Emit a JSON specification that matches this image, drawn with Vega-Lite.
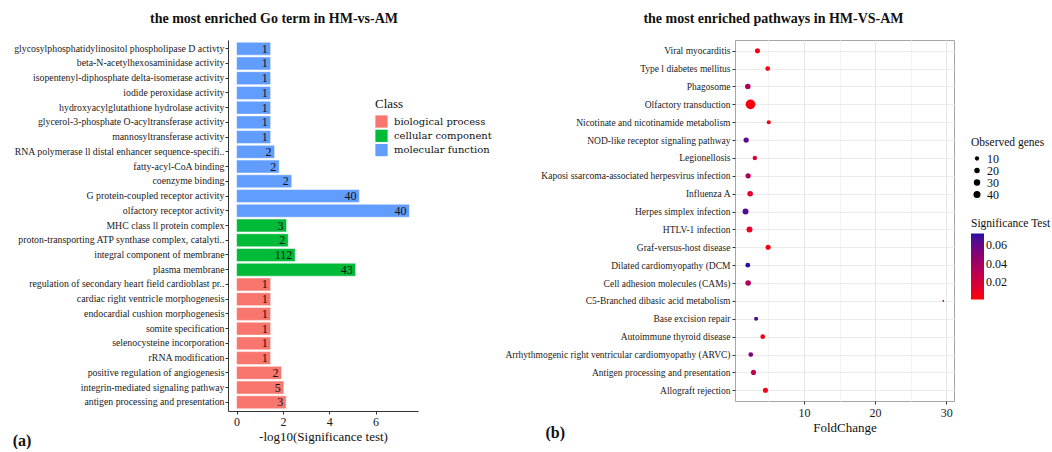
{
  "$schema": "https://vega.github.io/schema/vega-lite/v6.json",
  "padding": {"left": 12, "top": 11, "right": 2, "bottom": 0},
  "autosize": {"type": "pad"},
  "background": "white",
  "config": {
    "font": "Liberation Serif",
    "title": {"font": "Liberation Serif", "color": "#111"},
    "axis": {"labelFont": "Liberation Serif", "titleFont": "Liberation Serif", "labelColor": "#1a1a1a", "titleColor": "#111"},
    "legend": {"labelFont": "Liberation Serif", "titleFont": "Liberation Serif", "labelColor": "#111", "titleColor": "#111"},
    "view": {"stroke": null}
  },
  "spacing": 12,
  "resolve": {"scale": {"color": "independent", "size": "independent"}, "legend": {"color": "independent", "size": "independent"}},
  "hconcat": [
    {
      "title": {"text": "(a)", "orient": "bottom", "anchor": "start", "fontSize": 16, "fontWeight": "bold", "offset": -10, "dx": -1},
      "vconcat": [
        {
          "title": {"text": "the most enriched Go term in HM-vs-AM", "fontSize": 14, "fontWeight": "bold", "frame": "group", "dx": -49, "offset": 14},
          "width": 190,
          "height": 371,
          "data": {"values": [
            {"term": "glycosylphosphatidylinositol phospholipase D activty", "logp": 1.47, "genes": 1, "class": "molecular function"},
            {"term": "beta-N-acetylhexosaminidase activity", "logp": 1.47, "genes": 1, "class": "molecular function"},
            {"term": "isopentenyl-diphosphate delta-isomerase activity", "logp": 1.47, "genes": 1, "class": "molecular function"},
            {"term": "iodide peroxidase activity", "logp": 1.47, "genes": 1, "class": "molecular function"},
            {"term": "hydroxyacylglutathione hydrolase activity", "logp": 1.47, "genes": 1, "class": "molecular function"},
            {"term": "glycerol-3-phosphate O-acyltransferase activity", "logp": 1.47, "genes": 1, "class": "molecular function"},
            {"term": "mannosyltransferase activity", "logp": 1.47, "genes": 1, "class": "molecular function"},
            {"term": "RNA polymerase ll distal enhancer sequence-specifi..", "logp": 1.64, "genes": 2, "class": "molecular function"},
            {"term": "fatty-acyl-CoA binding", "logp": 1.84, "genes": 2, "class": "molecular function"},
            {"term": "coenzyme binding", "logp": 2.38, "genes": 2, "class": "molecular function"},
            {"term": "G protein-coupled receptor activity", "logp": 5.3, "genes": 40, "class": "molecular function"},
            {"term": "olfactory receptor activity", "logp": 7.46, "genes": 40, "class": "molecular function"},
            {"term": "MHC class ll protein complex", "logp": 2.16, "genes": 3, "class": "cellular component"},
            {"term": "proton-transporting ATP synthase complex, catalyti..", "logp": 2.23, "genes": 2, "class": "cellular component"},
            {"term": "integral component of membrane", "logp": 2.53, "genes": 112, "class": "cellular component"},
            {"term": "plasma membrane", "logp": 5.14, "genes": 43, "class": "cellular component"},
            {"term": "regulation of secondary heart field cardioblast pr..", "logp": 1.47, "genes": 1, "class": "biological process"},
            {"term": "cardiac right ventricle morphogenesis", "logp": 1.47, "genes": 1, "class": "biological process"},
            {"term": "endocardial cushion morphogenesis", "logp": 1.47, "genes": 1, "class": "biological process"},
            {"term": "somite specification", "logp": 1.47, "genes": 1, "class": "biological process"},
            {"term": "selenocysteine incorporation", "logp": 1.47, "genes": 1, "class": "biological process"},
            {"term": "rRNA modification", "logp": 1.47, "genes": 1, "class": "biological process"},
            {"term": "positive regulation of angiogenesis", "logp": 1.94, "genes": 2, "class": "biological process"},
            {"term": "integrin-mediated signaling pathway", "logp": 2.04, "genes": 5, "class": "biological process"},
            {"term": "antigen processing and presentation", "logp": 2.14, "genes": 3, "class": "biological process"}
          ]},
          "encoding": {
            "y": {"field": "term", "type": "nominal", "sort": null,
                  "scale": {"paddingInner": 0.12, "paddingOuter": 0.15},
                  "axis": {"title": null, "labelFontSize": 9.8, "labelLimit": 400, "tickColor": "#333", "tickSize": 3, "domainColor": "#333", "labelPadding": 1}},
            "x": {"field": "logp", "type": "quantitative",
                  "scale": {"domain": [-0.37, 7.83], "nice": false, "zero": false},
                  "axis": {"values": [0, 2, 4, 6], "title": "-log10(Significance test)", "titleFontSize": 13, "titleFontWeight": "normal", "titlePadding": 3, "labelFontSize": 12, "labelPadding": 2, "grid": false, "domainColor": "#333", "tickColor": "#333", "tickSize": 3}}
          },
          "layer": [
            {
              "mark": {"type": "bar", "stroke": "white", "strokeWidth": 0.5},
              "encoding": {
                "color": {"field": "class", "type": "nominal",
                          "scale": {"domain": ["biological process", "cellular component", "molecular function"], "range": ["#F8766D", "#00BA38", "#619CFF"]},
                          "legend": {"title": "Class", "orient": "none", "legendX": 147, "legendY": 58, "titleFontSize": 13, "titleFontWeight": "normal", "labelFont": "DejaVu Serif", "labelFontSize": 10, "symbolType": "square", "symbolSize": 150, "symbolStrokeWidth": 0, "symbolOpacity": 1, "rowPadding": 1.3, "padding": 0, "titlePadding": 4, "labelOffset": 6}}
              }
            },
            {
              "mark": {"type": "text", "align": "right", "baseline": "middle", "dx": -3, "fontSize": 12, "color": "#111"},
              "encoding": {"text": {"field": "genes", "type": "quantitative"}}
            }
          ]
        }
      ]
    },
    {
      "title": {"text": "(b)", "orient": "bottom", "anchor": "start", "fontSize": 16, "fontWeight": "bold", "offset": -10, "dx": 41},
      "vconcat": [
        {
          "title": {"text": "the most enriched pathways in HM-VS-AM", "fontSize": 14, "fontWeight": "bold", "frame": "group", "dx": -71, "offset": 14},
          "width": 219,
          "height": 361,
          "view": {"stroke": "#A6A6A6"},
          "data": {"values": [
            {"pathway": "Viral myocarditis", "fc": 3.46, "genes": 16, "p": 0.005},
            {"pathway": "Type l diabetes mellitus", "fc": 4.9, "genes": 13, "p": 0.003},
            {"pathway": "Phagosome", "fc": 2.1, "genes": 21, "p": 0.035},
            {"pathway": "Olfactory transduction", "fc": 2.48, "genes": 100, "p": 0.003},
            {"pathway": "Nicotinate and nicotinamide metabolism", "fc": 5.05, "genes": 9, "p": 0.004},
            {"pathway": "NOD-like receptor signaling pathway", "fc": 1.87, "genes": 18, "p": 0.062},
            {"pathway": "Legionellosis", "fc": 3.09, "genes": 11, "p": 0.018},
            {"pathway": "Kaposi ssarcoma-associated herpesvirus infection", "fc": 2.15, "genes": 18, "p": 0.033},
            {"pathway": "Influenza A", "fc": 2.43, "genes": 21, "p": 0.014},
            {"pathway": "Herpes simplex infection", "fc": 1.78, "genes": 25, "p": 0.066},
            {"pathway": "HTLV-1 infection", "fc": 2.34, "genes": 25, "p": 0.01},
            {"pathway": "Graf-versus-host disease", "fc": 4.96, "genes": 16, "p": 0.003},
            {"pathway": "Dilated cardiomyopathy (DCM", "fc": 2.1, "genes": 13, "p": 0.073},
            {"pathway": "Cell adhesion molecules (CAMs)", "fc": 2.15, "genes": 21, "p": 0.035},
            {"pathway": "C5-Branched dibasic acid metabolism", "fc": 29.6, "genes": 1, "p": 0.045},
            {"pathway": "Base excision repair", "fc": 3.27, "genes": 9, "p": 0.066},
            {"pathway": "Autoimmune thyroid disease", "fc": 4.2, "genes": 13, "p": 0.006},
            {"pathway": "Arrhythmogenic right ventricular cardiomyopathy (ARVC)", "fc": 2.52, "genes": 13, "p": 0.052},
            {"pathway": "Antigen processing and presentation", "fc": 2.9, "genes": 16, "p": 0.028},
            {"pathway": "Allograft rejection", "fc": 4.58, "genes": 16, "p": 0.004}
          ]},
          "mark": {"type": "circle", "opacity": 1},
          "encoding": {
            "y": {"field": "pathway", "type": "nominal", "sort": null,
                  "scale": {"type": "point", "padding": 0.6},
                  "axis": {"title": null, "labelFontSize": 9.5, "labelLimit": 400, "grid": true, "gridColor": "#EBEBEB", "domain": false, "tickColor": "#333", "tickSize": 3, "labelPadding": 2}},
            "x": {"field": "fc", "type": "quantitative",
                  "scale": {"domain": [0.3, 31.1], "nice": false, "zero": false},
                  "axis": {"values": [5, 10, 15, 20, 25, 30],
                           "labelExpr": "datum.value % 10 === 0 ? datum.label : ''",
                           "tickOpacity": {"condition": {"test": "datum.value % 10 === 0", "value": 1}, "value": 0},
                           "gridColor": {"condition": {"test": "datum.value % 10 === 0", "value": "#E6E6E6"}, "value": "#F4F4F4"},
                           "grid": true,
                           "title": "FoldChange", "titleFontSize": 13, "titleFontWeight": "normal", "titlePadding": 3,
                           "labelFontSize": 12, "labelPadding": 3, "domain": false, "tickColor": "#333", "tickSize": 3}},
            "size": {"field": "genes", "type": "quantitative",
                     "scale": {"type": "pow", "exponent": 0.7, "domain": [1, 100], "range": [3, 95]},
                     "legend": {"title": "Observed genes", "values": [10, 20, 30, 40], "orient": "none", "legendX": 236, "legendY": 97, "titleFontSize": 11.5, "titleFontWeight": "normal", "labelFontSize": 12, "symbolFillColor": "black", "symbolStrokeWidth": 0, "symbolType": "circle", "padding": 0, "rowPadding": 0, "titlePadding": 4, "labelOffset": 4}},
            "color": {"field": "p", "type": "quantitative",
                      "scale": {"domain": [0.001, 0.073], "range": ["#FF0000", "#2010A0"], "interpolate": "lab"},
                      "legend": {"title": "Significance Test", "orient": "none", "legendX": 236, "legendY": 178, "values": [0.02, 0.04, 0.06], "format": ".2f", "gradientLength": 66, "gradientThickness": 13, "titleFontSize": 11.5, "titleFontWeight": "normal", "labelFontSize": 12, "padding": 0, "titlePadding": 4}}
          }
        }
      ]
    }
  ]
}
